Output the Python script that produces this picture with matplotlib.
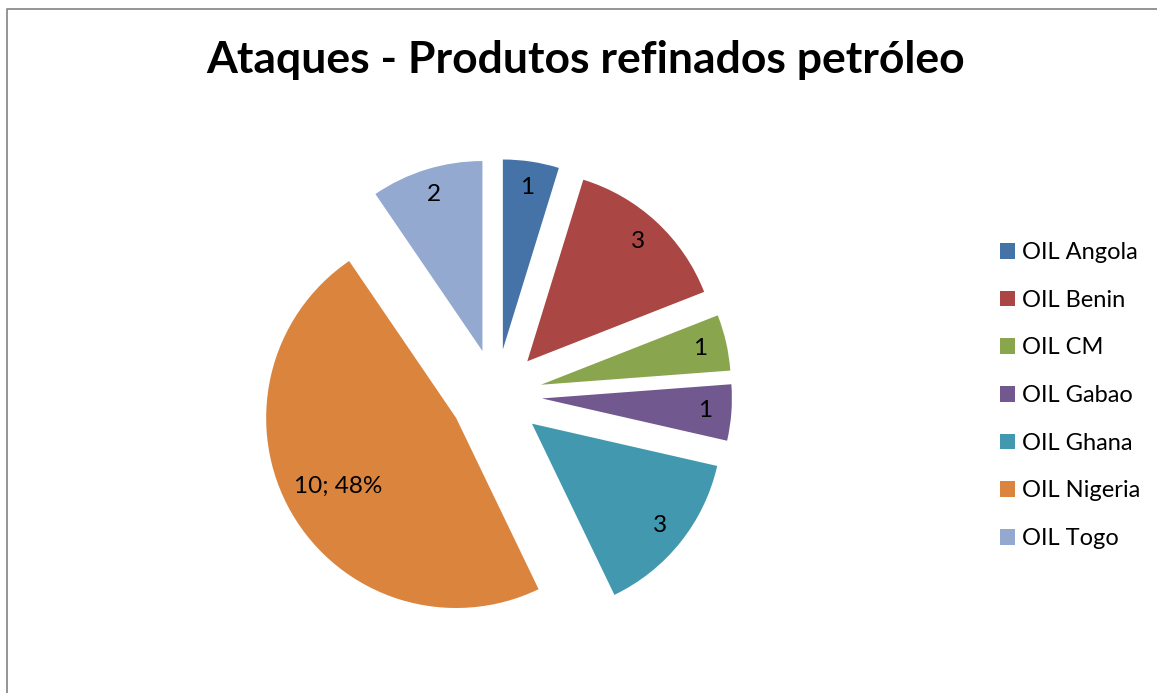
import matplotlib
matplotlib.use('Agg')
import numpy as np
import matplotlib.pyplot as plt
from matplotlib.patches import Patch
from matplotlib.lines import Line2D

# dados
paises = ['OIL Angola', 'OIL Benin', 'OIL CM', 'OIL Gabao', 'OIL Ghana', 'OIL Nigeria', 'OIL Togo']
ataques = [1, 3, 1, 1, 3, 10, 2]
mostra_pct = [False, False, False, False, False, True, False]
cores = ['#4572A7', '#AA4643', '#89A54E', '#71588F', '#4198AF', '#DB843D', '#93A9CF']
titulo = 'Ataques - Produtos refinados petróleo'

W, H = 1157, 693
fonte = 'Lato'

fig = plt.figure(figsize=(W / 100, H / 100), dpi=100)
ax = fig.add_axes([0, 0, 1, 1])

raio = 190
centro = (496, H - 395)
wedges, _ = ax.pie(ataques, colors=cores, startangle=90, counterclock=False,
                   radius=raio, center=centro, explode=[46] * len(ataques),
                   wedgeprops=dict(linewidth=0))
ax.set_xlim(0, W)
ax.set_ylim(0, H)
ax.set_aspect('equal')
ax.axis('off')

# rotulos dentro das fatias
total = sum(ataques)
for w, v, pct in zip(wedges, ataques, mostra_pct):
    ang = np.deg2rad((w.theta1 + w.theta2) / 2)
    dist = 0.72 if pct else 0.86
    x = w.center[0] + dist * raio * np.cos(ang)
    y = w.center[1] + dist * raio * np.sin(ang)
    txt = f'{v}; {v / total:.0%}' if pct else str(v)
    ax.text(x, y, txt, ha='center', va='center', fontsize=17.5, family=fonte, color='black')

# titulo
fig.text(586 / W, 1 - 73 / H, titulo, ha='center', va='baseline',
         fontsize=32, fontweight='bold', family=fonte)

# legenda
handles = [Patch(facecolor=c, edgecolor='none') for c in cores]
fig.legend(handles, paises, loc='upper left', bbox_to_anchor=(1000 / W, 1 - 242 / H),
           frameon=False, borderpad=0, borderaxespad=0, handlelength=0.64, handleheight=0.64,
           handletextpad=0.3, labelspacing=1.13, prop={'family': fonte, 'size': 17})

# borda do grafico
fig.add_artist(Line2D([6.5 / W, 6.5 / W, 1.0], [0.0, 1 - 9 / H, 1 - 9 / H],
                      transform=fig.transFigure, color='#8c8c8c', linewidth=1.3))

fig.savefig('out.png', dpi=100)
